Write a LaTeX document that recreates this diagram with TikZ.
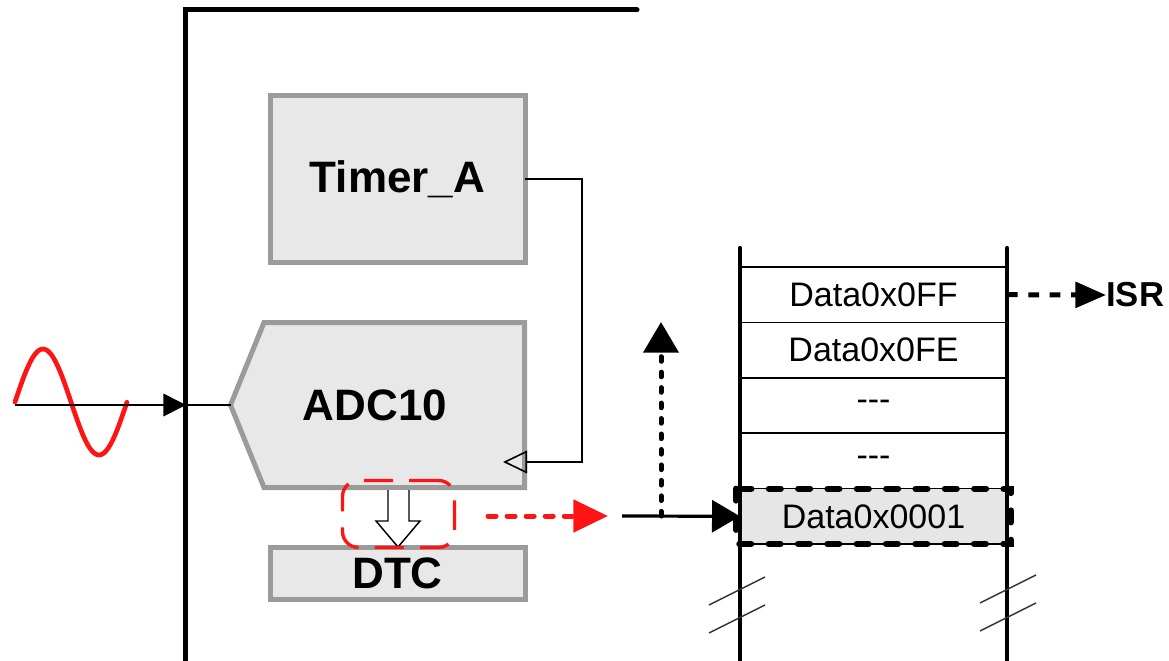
\documentclass[tikz,border=0pt]{standalone}
\usepackage{fontspec}
\setmainfont{Liberation Sans}
\usepackage{tikz}
\usetikzlibrary{arrows.meta, positioning}
\definecolor{blockgray}{RGB}{155,155,155}
\definecolor{blockfill}{RGB}{232,232,232}
\definecolor{sigred}{RGB}{255,20,20}
\definecolor{cellgray}{RGB}{230,230,230}

\begin{document}
\begin{tikzpicture}[x=0.75pt, y=0.75pt,
    block/.style={draw=blockgray, fill=blockfill, line width=3.75pt, inner sep=0pt, outer sep=0pt,
                  minimum width=255*0.75pt, font=\fontsize{33}{38}\selectfont\bfseries},
    memcell/.style={draw=black, line width=1.3pt, inner sep=0pt, outer sep=0pt,
                    minimum width=267*0.75pt, minimum height=55.4*0.75pt, font=\fontsize{25.5}{30}\selectfont},
    chipframe/.style={line width=3.75pt},
    column/.style={line width=3.2pt, line cap=round},
    wire/.style={line width=1.2pt},
    dotline/.style={line width=3.75pt, line cap=round, dash pattern=on 3.5pt off 8.1pt},
    reddots/.style={line width=3.75pt, line cap=round, dash pattern=on 6pt off 8.3pt},
    seldash/.style={line width=4.5pt, line cap=round, dash pattern=on 9pt off 13pt},
    breakmark/.style={line width=1.1pt, black!80}]
    \useasboundingbox (0,0) rectangle (1169,-660);

    % chip outline
    \draw[chipframe, line cap=round] (637,-10) -- (185,-10) -- (185,-662);

    % blocks
    \node[block, minimum height=167*0.75pt] (timer) at (397.5,-179) {Timer\_A};
    \draw[block] (230.5,-405) -- (264,-322.5) -- (524.5,-322.5) -- (524.5,-487.5) -- (264,-487.5) -- cycle;
    \node[font=\fontsize{33}{38}\selectfont\bfseries] (adc) at (375,-405) {ADC10};
    \coordinate (adcin) at (230.5,-405);
    \node[block, minimum height=52*0.75pt] (dtc) at (397.5,-573.5) {DTC};

    % analog input
    \draw[sigred, line width=3.5pt, line cap=round, domain=0:1, samples=80]
          plot ({15+112*\x}, {-402+53*sin(360*\x)});
    \coordinate (sigin) at (15,-405);
    \coordinate (busin) at (186,-405);
    \draw[wire, -{Triangle[length=17pt, width=17pt]}] (sigin) -- (busin);
    \draw[wire] (busin) -- (adcin);

    % trigger
    \coordinate (clkin) at (503,-462);
    \draw[wire, -{Triangle[open, length=18pt, width=17pt]}] (timer.east) -- ++(57,0) |- (clkin);

    % transfer
    \draw[wire, fill=white, line width=1.1pt] (388,-490) -- (388,-521) -- (376,-521) -- (398,-547)
          -- (420,-521) -- (409,-521) -- (409,-490);
    \node[draw=sigred, line width=2.5pt, dash pattern=on 22pt off 12pt, rounded corners=12pt,
          minimum width=112*0.75pt, minimum height=67*0.75pt] (xfer) at (398.5,-514) {};

    % memory
    \node[memcell] (c1) at (873.5,-294.7) {Data0x0FF};
    \node[memcell, below=0pt of c1] (c2) {Data0x0FE};
    \node[memcell, below=0pt of c2] (c3) {-{}-{}-};
    \node[memcell, below=0pt of c3] (c4) {-{}-{}-};
    \node[memcell, fill=cellgray, below=0pt of c4] (c5) {Data0x0001};
    \draw[seldash] ([xshift=-3pt]c5.north west) rectangle ([xshift=3pt]c5.south east);
    \draw[column] (740,-248) -- (740,-664);
    \draw[column] (1007,-248) -- (1007,-664);
    \foreach \dy in {0,28} {
        \draw[breakmark] (709,-605-\dy) -- (765,-577-\dy);
        \draw[breakmark] (980,-603-\dy) -- (1036,-575-\dy);
    }

    % arrows
    \coordinate (redtail) at (488,-516);
    \coordinate (redtip) at (608,-516);
    \coordinate (blktail) at (622,-516);
    \coordinate (branch) at (661,-516);
    \draw[reddots, sigred, -{Triangle[length=26pt, width=24pt]}] (redtail) -- (redtip);
    \draw[line width=2.4pt, -{Triangle[length=21pt, width=24pt]}] (blktail) -- (c5.west);
    \draw[dotline, -{Triangle[length=23pt, width=26pt]}] (branch) -- ++(0,194);

    \node[anchor=west, inner sep=0pt, font=\fontsize{26}{30}\selectfont\bfseries] (isr) at (1106,-295) {ISR};
    \draw[line width=3.75pt, dash pattern=on 8pt off 8pt, -{Triangle[length=23pt, width=19pt]}]
          (c1.east) -- (isr.west);
\end{tikzpicture}
\end{document}
